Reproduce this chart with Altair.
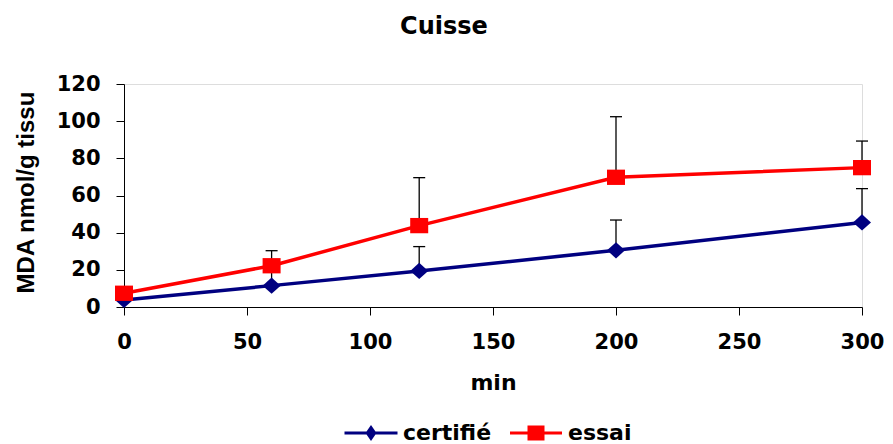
import altair as alt
import pandas as pd

# Malondialdehyde (MDA) in thigh tissue over time, two groups
time_min = [0, 60, 120, 200, 300]
series_names = ["certifié", "essai"]
certifie_mean = [3.8, 11.5, 19.4, 30.5, 45.5]
certifie_sd = [1.0, 10.5, 13.1, 16.3, 18.2]
essai_mean = [7.4, 22.2, 43.8, 69.8, 75.0]
essai_sd = [1.5, 8.1, 25.8, 32.6, 14.3]

y_ticks = [0, 20, 40, 60, 80, 100, 120]
x_ticks = [0, 50, 100, 150, 200, 250, 300]

series_colors = ["#000080", "#FF0000"]
# marker outlines in symbol unit space
marker_paths = ["M-1,0L0,-0.9L1,0L0,0.9Z", "M-1,-0.85L1,-0.85L1,0.85L-1,0.85Z"]
# legend keys: a thin bar with the marker in its middle (fill only)
legend_paths = [
    "M-2.65,-0.15L2.65,-0.15L2.65,0.15L-2.65,0.15Z"
    "M-0.55,0L0,-0.8L0.55,0L0,0.8Z",
    "M-2.6,-0.15L2.6,-0.15L2.6,0.15L-2.6,0.15Z"
    "M-0.85,-0.75L0.85,-0.75L0.85,0.75L-0.85,0.75Z",
]
legend_x = [236, 401]

rows = []
for name, means, sds in [("certifié", certifie_mean, certifie_sd), ("essai", essai_mean, essai_sd)]:
    for t, m, s in zip(time_min, means, sds):
        rows.append({"time": t, "series": name, "value": m, "upper": m + s})
df = pd.DataFrame(rows)

FONT = "DejaVu Sans"

x_axis = alt.Axis(
    values=x_ticks,
    title="min",
    titleFont=FONT, titleFontSize=22, titleFontWeight="bold", titleColor="black",
    titleBaseline="alphabetic", titleY=82,
    labelFont=FONT, labelFontSize=21, labelFontWeight="bold", labelColor="black",
    labelPadding=16, tickSize=8, tickColor="black", domainColor="black",
    grid=False, labelFlush=False, labelOverlap=False,
)
y_axis = alt.Axis(
    values=y_ticks,
    title="MDA nmol/g tissu",
    titleFont="Liberation Sans", titleFontSize=24, titleFontWeight="bold", titleColor="black",
    titleAngle=270, titleBaseline="alphabetic", titleAlign="center",
    titleX=-91, titleY=108,
    labelFont=FONT, labelFontSize=21, labelFontWeight="bold", labelColor="black",
    labelPadding=16, tickSize=8, tickColor="black", domainColor="black",
    grid=False, labelFlush=False, labelOverlap=False,
)
x_scale = alt.Scale(domain=[0, 300], nice=False)
y_scale = alt.Scale(domain=[0, 120], nice=False)


def x_enc():
    return alt.X("time:Q", scale=x_scale, axis=x_axis)


def y_enc(field):
    return alt.Y(f"{field}:Q", scale=y_scale, axis=y_axis)


color_scale = alt.Scale(domain=series_names, range=series_colors)

base = alt.Chart(df)

lines = base.mark_line(strokeWidth=3.5).encode(
    x=x_enc(), y=y_enc("value"),
    color=alt.Color("series:N", scale=color_scale, legend=None),
)

err_stems = base.mark_rule(color="black", strokeWidth=1.3).encode(
    x=x_enc(), y=y_enc("value"), y2="upper:Q"
)
err_caps = base.mark_rule(color="black", strokeWidth=1.3, xOffset=-6, x2Offset=6).encode(
    x=x_enc(), x2="time:Q", y=y_enc("upper")
)

# one marker layer per series, each with its own symbol
marker_layers = [
    base.transform_filter(alt.datum.series == name)
    .mark_point(filled=True, size=324, opacity=1, shape=path)
    .encode(
        x=x_enc(),
        y=y_enc("value"),
        color=alt.Color("series:N", scale=color_scale, legend=None),
    )
    for name, path in zip(series_names, marker_paths)
]

# one single-entry key per series; no rows reach these layers
legend_layers = [
    base.transform_filter("false")
    .mark_point(filled=True, opacity=1, color=col)
    .encode(
        x=x_enc(),
        y=y_enc("value"),
        shape=alt.Shape(
            "series:N",
            scale=alt.Scale(domain=[name], range=[path]),
            legend=alt.Legend(
                title=None, orient="none", direction="horizontal",
                legendX=lx, legendY=338,
                symbolSize=400, symbolStrokeWidth=0, symbolOpacity=1,
                labelFont=FONT, labelFontSize=22, labelFontWeight="bold", labelColor="black",
                labelOffset=21,
            ),
        ),
    )
    for name, col, path, lx in zip(series_names, series_colors, legend_paths, legend_x)
]

chart = (
    alt.layer(lines, err_stems, err_caps, *marker_layers, *legend_layers)
    .resolve_scale(shape="independent")
    .properties(
        width=738,
        height=223,
        autosize=alt.AutoSizeParams(type="none"),
        padding={"left": 124, "top": 84, "right": 31, "bottom": 137},
        title=alt.TitleParams(
            "Cuisse", font=FONT, fontSize=24, fontWeight="bold", color="black",
            anchor="middle", frame="group", dx=-49, dy=-30,
        ),
    )
    .configure_view(stroke=None)
    .configure_axis(domainWidth=1.3, tickWidth=1.3, labelOverlap=False)
    .configure(background="white")
)

chart.save("out.html", embed_options={"renderer": "svg", "actions": False})
